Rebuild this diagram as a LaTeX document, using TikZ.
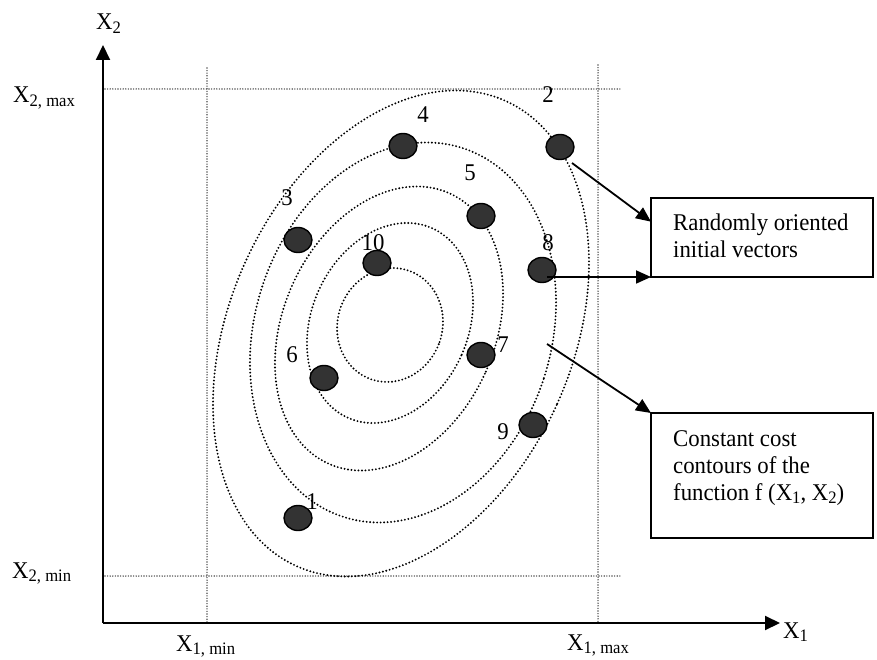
\documentclass[tikz,border=0pt]{standalone}
\usepackage{fontspec}
\setmainfont{Liberation Serif}[FakeStretch=0.95]
\usetikzlibrary{shapes.geometric,arrows.meta,calc}
\definecolor{dotfill}{HTML}{333333}
\newcommand{\sbs}[1]{\raisebox{-3.5pt}{\fontsize{17.5}{18}\selectfont #1}}
\begin{document}
\begin{tikzpicture}[x=1pt,y=1pt,
  every node/.style={font=\fontsize{24}{27}\selectfont},
  contour/.style={line width=2.1pt, dash pattern=on 0pt off 3.5pt, line cap=round},
  guide/.style={line width=1.6pt, dash pattern=on 0pt off 2.6pt, line cap=round, black!65},
  vdot/.style={ellipse, draw=black, fill=dotfill, line width=1.4pt, minimum width=28pt, minimum height=25pt, inner sep=0pt},
  num/.style={inner sep=0pt, anchor=center},
  axlab/.style={inner sep=0pt, anchor=base west},
  boxst/.style={draw, line width=2.5pt, minimum width=222pt, inner sep=0pt, outer sep=0pt},
  conn/.style={line width=1.8pt, -{Triangle[length=15pt,width=13pt]}},
  axis/.style={line width=2pt, -{Triangle[length=15pt,width=14pt]}}
]
\useasboundingbox (0,0) rectangle (877,659);

% guide lines
\draw[guide] (105,570) -- (622,570);
\draw[guide] (105,83) -- (622,83);
\draw[guide] (207,591) -- (207,36);
\draw[guide] (598,594) -- (598,36);

% axes
\coordinate (O) at (103,36);
\coordinate (ytip) at (103,614);
\coordinate (xtip) at (780,36);
\draw[axis] (O) -- (ytip);
\draw[axis] (O) -- (xtip);

% axis labels
\node[axlab] (lx2) at (96,629) {X\sbs{2}};
\node[axlab] (lx2max) at (13,556) {X\sbs{2, max}};
\node[axlab] (lx2min) at (12,81) {X\sbs{2, min}};
\node[axlab] (lx1min) at (176,8) {X\sbs{1, min}};
\node[axlab] (lx1max) at (567,9) {X\sbs{1, max}};
\node[axlab] (lx1) at (783,21) {X\sbs{1}};

% contours
\draw[contour, rotate around={-24.2:(401,325.5)}] (401,325.5) ellipse [x radius=171.3, y radius=255];
\draw[contour, rotate around={-17.9:(403,326.5)}] (403,326.5) ellipse [x radius=148.1, y radius=193.8];
\draw[contour, rotate around={-24:(389,330.5)}] (389,330.5) ellipse [x radius=106, y radius=148.1];
\draw[contour, rotate around={-23.8:(390,336)}] (390,336) ellipse [x radius=78.4, y radius=103.7];
\draw[contour, rotate around={-19:(390,334)}] (390,334) ellipse [x radius=52.4, y radius=57.5];

% points
\node[vdot] (d1) at (298,141) {};
\node[vdot] (d2) at (560,512) {};
\node[vdot] (d3) at (298,419) {};
\node[vdot] (d4) at (403,513) {};
\node[vdot] (d5) at (481,443) {};
\node[vdot] (d6) at (324,281) {};
\node[vdot] (d7) at (481,304) {};
\node[vdot] (d8) at (542,389) {};
\node[vdot] (d9) at (533,234) {};
\node[vdot] (d10) at (377,396) {};

% numbers
\node[num] (n1) at (312,157) {1};
\node[num] (n2) at (548,564) {2};
\node[num] (n3) at (287,461) {3};
\node[num] (n4) at (423,544) {4};
\node[num] (n5) at (470,486) {5};
\node[num] (n6) at (292,304) {6};
\node[num] (n7) at (503,314) {7};
\node[num] (n8) at (548,416) {8};
\node[num] (n9) at (503,227) {9};
\node[num] (n10) at (373,416) {10};

% boxes
\node[boxst, minimum height=79pt] (b1) at (762,421.5) {};
\node[boxst, minimum height=125pt] (b2) at (762,183.5) {};
\node[axlab] (t1) at (673,428) {\begin{tabular}[t]{@{}l@{}}Randomly oriented\\initial vectors\end{tabular}};
\node[axlab] (t2) at (673,213) {\begin{tabular}[t]{@{}l@{}}Constant cost\\contours of the\\function f (X\sbs{1}, X\sbs{2})\end{tabular}};

% connectors
\coordinate (s1) at (572,496);
\coordinate (s2) at (547,382);
\coordinate (s3) at (547,315);
\coordinate (e1) at ($(b1.north west)!0.30!(b1.south west)$);
\draw[conn] (s1) -- (e1);
\draw[conn] (s2) -- (b1.south west);
\draw[conn] (s3) -- (b2.north west);
\end{tikzpicture}
\end{document}
